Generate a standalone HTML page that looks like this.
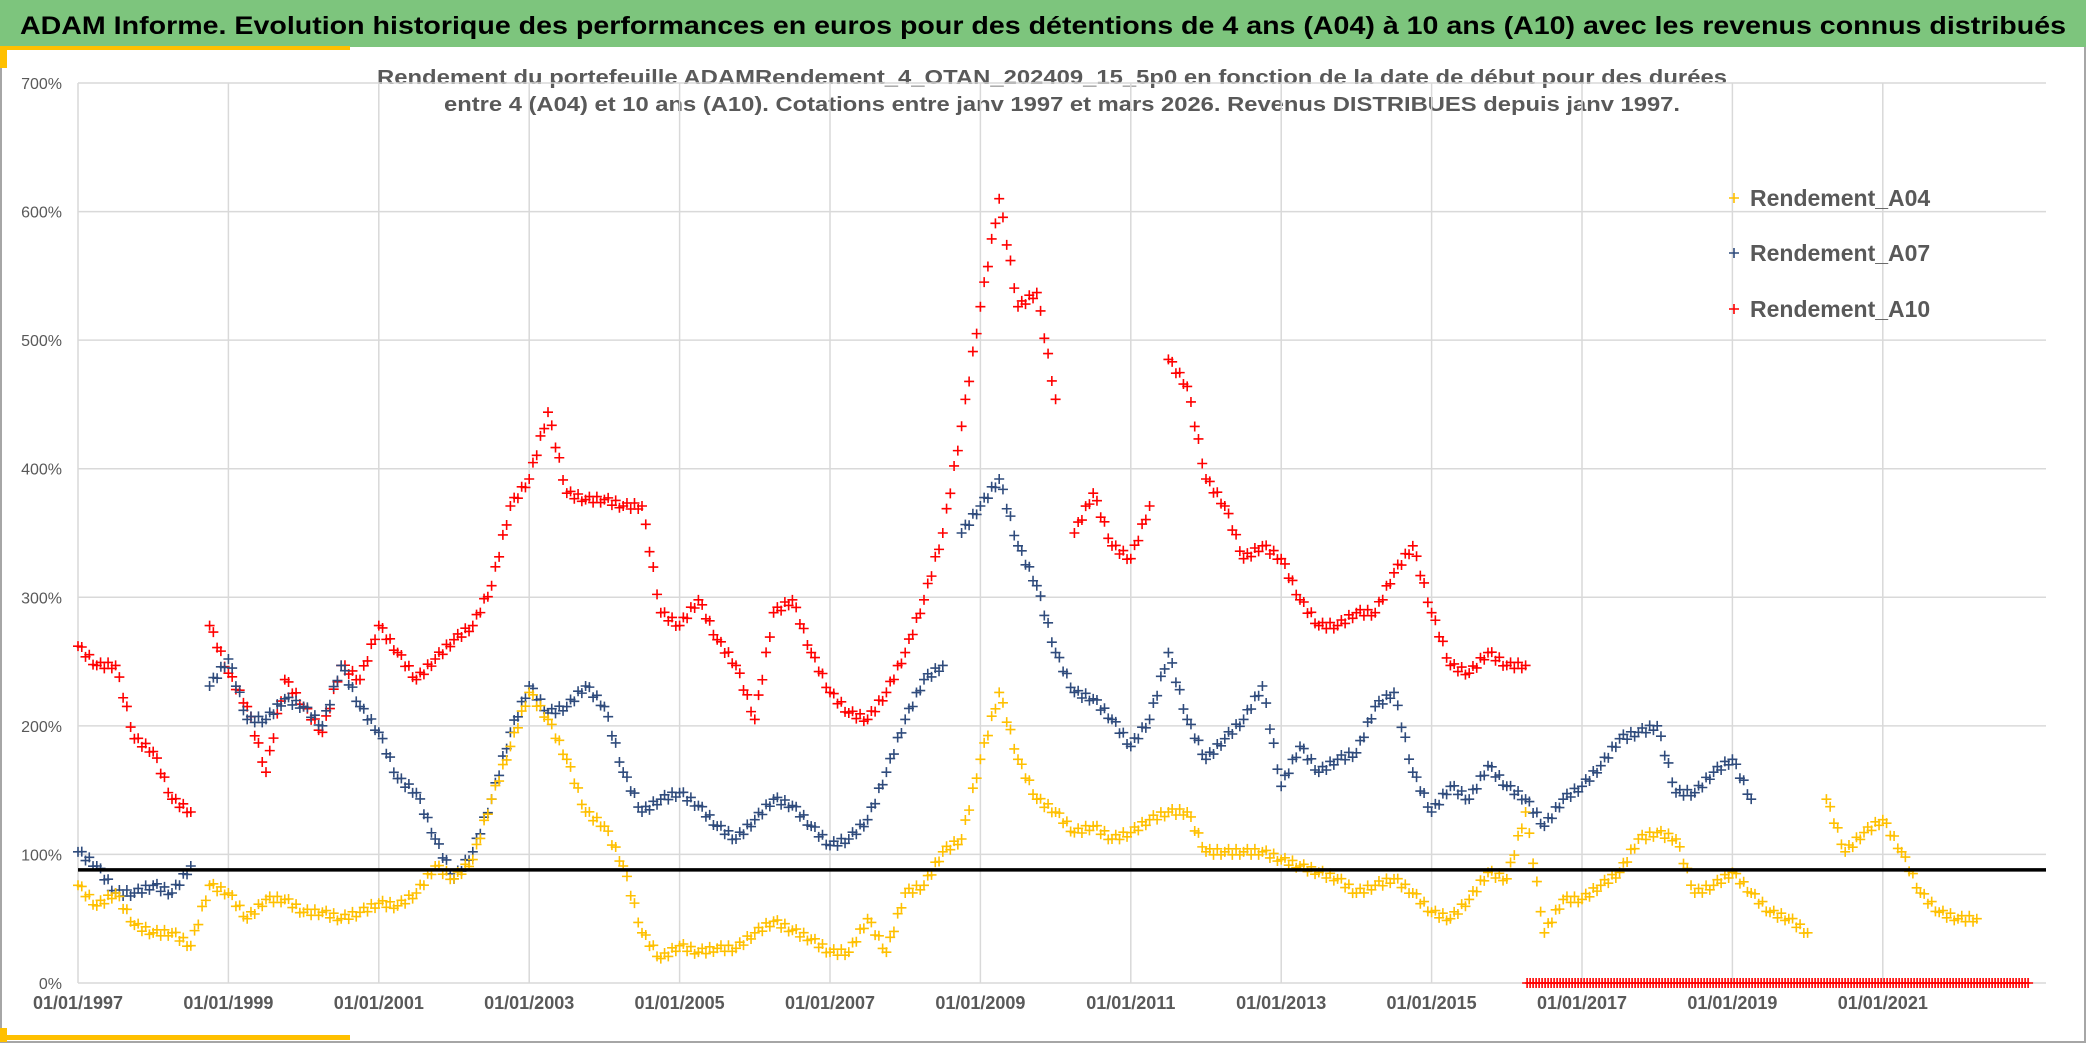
<!DOCTYPE html>
<html><head><meta charset="utf-8"><style>
html,body{margin:0;padding:0;background:#fff;}
svg{display:block;font-family:"Liberation Sans",sans-serif;}
</style></head><body>
<svg id="chart" width="2086" height="1043" viewBox="0 0 2086 1043" xmlns="http://www.w3.org/2000/svg">
<rect x="0" y="0" width="2086" height="1043" fill="#fff"/>
<rect x="1" y="1" width="2084" height="1041" fill="none" stroke="#a6a6a6" stroke-width="2"/>
<rect x="0" y="0" width="2086" height="47" fill="#7dc57d"/>
<text x="20" y="34" font-size="25" font-weight="bold" fill="#000" textLength="2046" lengthAdjust="spacingAndGlyphs">ADAM Informe. Evolution historique des performances en euros pour des détentions de 4 ans (A04) à 10 ans (A10) avec les revenus connus distribués</text>
<rect x="0" y="46" width="350" height="4" fill="#ffc000"/>
<rect x="0" y="46" width="7" height="22" fill="#ffc000"/>
<rect x="7" y="1035" width="343" height="5" fill="#ffc000"/>
<rect x="0" y="1028" width="7" height="14" fill="#ffc000"/>
<text x="1052" y="84" font-size="20" font-weight="bold" fill="#595959" text-anchor="middle" textLength="1350" lengthAdjust="spacingAndGlyphs">Rendement du portefeuille ADAMRendement_4_OTAN_202409_15_5p0  en fonction de la date de début pour des durées</text>
<text x="1062" y="111" font-size="20" font-weight="bold" fill="#595959" text-anchor="middle" textLength="1236" lengthAdjust="spacingAndGlyphs">entre 4 (A04) et 10 ans (A10). Cotations entre janv 1997 et mars 2026. Revenus DISTRIBUES depuis janv 1997.</text>
<g id="grid"></g><g id="axes"></g><g id="marks"></g><g id="legend"></g>
</svg>
<script>
const yTicks=[0,100,200,300,400,500,600,700];
const xTickYears=[1997,1999,2001,2003,2005,2007,2009,2011,2013,2015,2017,2019,2021];
const xTickLabels=["01/01/1997","01/01/1999","01/01/2001","01/01/2003","01/01/2005","01/01/2007","01/01/2009","01/01/2011","01/01/2013","01/01/2015","01/01/2017","01/01/2019","01/01/2021"];
const seriesNames=["Rendement_A04","Rendement_A07","Rendement_A10"];
const startYear=1997, stepYears=0.25;
const a04=[76,60,70,45,39,39,29,76,70,50,65,65,55,55,50,55,62,60,70,91,81,96,143,184,226,205,174,133,122,91,39,19,29,24,27,27,39,48,41,34,24,24,50,24,70,76,102,112,174,226,174,143,133,117,122,112,117,127,133,133,102,102,102,102,96,91,86,81,70,76,81,70,55,50,65,86,81,133,39,65,65,76,86,112,117,112,70,76,86,70,55,50,39,143,102,117,127,102,70,55,50,50];
const a07=[102,91,70,70,76,70,91,231,252,205,205,221,215,200,247,215,195,159,148,112,81,102,143,195,231,210,215,231,215,164,133,143,148,138,122,112,127,143,138,122,107,112,127,164,205,236,247,350,371,392,340,309,257,226,221,205,184,205,257,205,174,190,205,231,153,184,164,174,179,215,226,164,133,153,143,169,153,143,122,143,153,169,190,195,200,148,148,164,174,143];
const a10=[262,247,247,190,180,143,133,278,241,215,164,236,215,195,247,236,278,257,236,252,267,278,309,371,392,444,381,376,376,371,371,288,278,298,267,247,205,288,298,257,226,210,205,226,257,298,350,433,526,610,526,537,454,350,381,340,330,371,485,464,392,371,330,340,330,298,278,278,288,288,319,340,288,247,241,257,247,247];
const a10ZeroStart=2016.27, a10ZeroEnd=2022.96;
const refLevel=88;
const colors=["#ffc000","#2f4b7c","#ff0000"];

const X0=78, PXY=75.2, Y0=983, PXP=1.2857, XR=2046;
const xS=t=>X0+(t-1997)*PXY;
const yS=v=>Y0-v*PXP;
const NS="http://www.w3.org/2000/svg";
function mk(tag,attrs,parent){const e=document.createElementNS(NS,tag);for(const k in attrs)e.setAttribute(k,attrs[k]);parent.appendChild(e);return e;}
const grid=document.getElementById('grid'),axes=document.getElementById('axes'),marks=document.getElementById('marks'),legend=document.getElementById('legend');

yTicks.forEach(v=>{
 const l=mk('line',{x1:X0,x2:XR,y1:yS(v),y2:yS(v),stroke:'#d9d9d9','stroke-width':1.5},grid);
 
 
 const t=mk('text',{x:62,y:yS(v)+6,'font-size':16,fill:'#595959','text-anchor':'end'},axes);
 t.textContent=v+'%';
 
 
});
xTickYears.forEach((yr,i)=>{
 const l=mk('line',{x1:xS(yr),x2:xS(yr),y1:yS(700),y2:Y0,stroke:'#d9d9d9','stroke-width':1.5},grid);
 
 
 const t=mk('text',{x:xS(yr),y:1009,'font-size':18,'font-weight':'bold',fill:'#595959','text-anchor':'middle'},axes);
 t.textContent=xTickLabels[i];
 
 
});

function cross(x,y,c,parent){
 const p=mk('path',{d:`M${x-5},${y}h10M${x},${y-5}v10`,stroke:c,'stroke-width':1.6,fill:'none'},parent);
 
 
}
function drawSeries(vals,c,name){
 const g=mk('g',{},marks);
 
 
 for(let i=0;i<vals.length;i++){
  const t=startYear+i*stepYears;
  cross(xS(t),yS(vals[i]),c,g);
  if(i+1<vals.length && Math.abs(vals[i+1]-vals[i])<100){
   for(let k=1;k<5;k++){
    const f=k/5;
    cross(xS(t+f*stepYears),yS(vals[i]+(vals[i+1]-vals[i])*f)+((k%2)?-3:3),c,g);
   }
  }
 }
}
drawSeries(a10,colors[2],'series-a10');
drawSeries(a07,colors[1],'series-a07');
drawSeries(a04,colors[0],'series-a04');
const zg=mk('g',{},marks);


for(let x=xS(a10ZeroStart);x<=xS(a10ZeroEnd);x+=3){cross(x,yS(0),colors[2],zg);}
const ref=mk('line',{x1:X0,x2:XR,y1:yS(refLevel),y2:yS(refLevel),stroke:'#000','stroke-width':3.5},marks);



const legY=[198,253,309];
seriesNames.forEach((n,i)=>{
 const g=mk('g',{},legend);
 
 
 cross(1734,legY[i],colors[i],g);
 const t=mk('text',{x:1750,y:legY[i]+8,'font-size':23,'font-weight':'bold',fill:'#595959'},g);
 t.textContent=n;
});
</script>
</body></html>
